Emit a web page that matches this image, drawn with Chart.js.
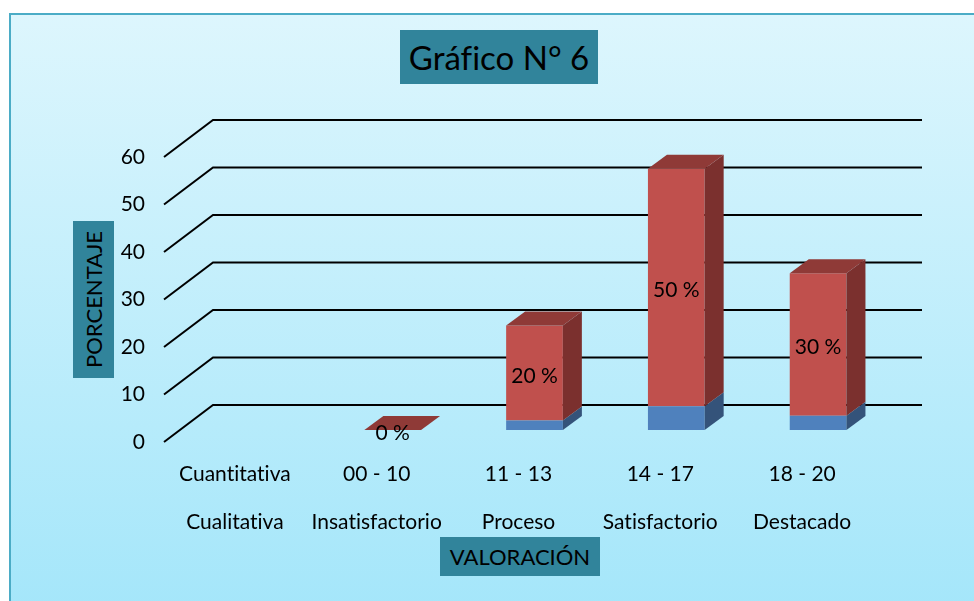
<!DOCTYPE html>
<html>
<head>
<meta charset="utf-8">
<script src="https://cdn.jsdelivr.net/npm/chart.js@4"></script>
<style>
  html, body { margin: 0; padding: 0; background: #fff; }
  body { width: 974px; height: 601px; position: relative; overflow: hidden; font-family: Lato, sans-serif; font-variant-ligatures: none; }
  #frame {
    position: absolute; left: 9px; top: 13px; width: 980px; height: 600px;
    border: 2px solid #4bacc6;
    background: linear-gradient(#ddf6fd, #a4e6fa);
  }
  #chartBox { position: absolute; left: 0; top: 0; width: 974px; height: 601px; }
  .tag { position: absolute; background: #31849b; color: #000; display: flex; align-items: center; justify-content: center; }
  #title { left: 400px; top: 30px; width: 198px; height: 54px; font-size: 33px; }
  #yTitle { left: 73px; top: 221px; width: 41px; height: 157px; font-size: 22px; }
  #yTitle span { transform: rotate(-90deg); white-space: nowrap; display: block; }
  #xTitle { left: 440px; top: 537px; width: 160px; height: 39px; font-size: 22px; }
</style>
</head>
<body>
<div id="frame"></div>
<div id="chartBox"><canvas id="grafico6" width="974" height="601"></canvas></div>
<div class="tag" id="title">Gráfico N° 6</div>
<div class="tag" id="yTitle"><span>PORCENTAJE</span></div>
<div class="tag" id="xTitle">VALORACIÓN</div>
<script>
// datos del gráfico
const categorias = [
    ['Cuantitativa', 'Cualitativa'],
    ['00 - 10', 'Insatisfactorio'],
    ['11 - 13', 'Proceso'],
    ['14 - 17', 'Satisfactorio'],
    ['18 - 20', 'Destacado']
];
const cantidad = [null, 0, 2, 5, 3];
const porcentaje = [null, 0, 20, 50, 30];

// profundidad del efecto 3D
const barDepth = { x: 19, y: -14 };
const wallFront = { x: -16, y: 12 };
const wallBack = { x: 33, y: -25 };

const frontColors = ['#4f81bd', '#c0504d'];
const sideColors = ['#34537a', '#7b302e'];
const topColors = ['#3d6596', '#8f3a37'];

// sin ligaduras en el texto del canvas
const noLigPlugin = {
    id: 'noLig',
    beforeDraw(chart) {
        chart.ctx.textRendering = 'optimizeSpeed';
    }
};

// lineas de division en perspectiva
const gridPlugin = {
    id: 'grid3d',
    beforeDatasetsDraw(chart) {
        const ctx = chart.ctx;
        const yScale = chart.scales.y;
        const area = chart.chartArea;
        ctx.save();
        ctx.strokeStyle = '#000';
        ctx.lineWidth = 2;
        yScale.ticks.forEach(t => {
            const y = yScale.getPixelForValue(t.value);
            ctx.beginPath();
            ctx.moveTo(area.left + wallFront.x, y + wallFront.y);
            ctx.lineTo(area.left + wallBack.x, y + wallBack.y);
            ctx.lineTo(area.right + wallBack.x, y + wallBack.y);
            ctx.stroke();
        });
        ctx.restore();
    }
};

// caras laterales, superiores y etiquetas
const barsPlugin = {
    id: 'bars3d',
    afterDatasetsDraw(chart) {
        const ctx = chart.ctx;
        const metas = chart.getSortedVisibleDatasetMetas();
        ctx.save();
        metas.forEach((meta, di) => {
            const values = chart.data.datasets[meta.index].data;
            meta.data.forEach((bar, i) => {
                if (values[i] == null) return;
                const p = bar.getProps(['x', 'y', 'base', 'width'], true);
                const l = p.x - p.width / 2, r = p.x + p.width / 2;
                const top = Math.min(p.y, p.base), bot = Math.max(p.y, p.base);
                ctx.fillStyle = sideColors[di];
                ctx.beginPath();
                ctx.moveTo(r, bot);
                ctx.lineTo(r, top);
                ctx.lineTo(r + barDepth.x, top + barDepth.y);
                ctx.lineTo(r + barDepth.x, bot + barDepth.y);
                ctx.closePath();
                ctx.fill();
                if (di === metas.length - 1) {
                    ctx.fillStyle = topColors[di];
                    ctx.beginPath();
                    ctx.moveTo(l, top);
                    ctx.lineTo(r, top);
                    ctx.lineTo(r + barDepth.x, top + barDepth.y);
                    ctx.lineTo(l + barDepth.x, top + barDepth.y);
                    ctx.closePath();
                    ctx.fill();
                }
            });
        });
        // etiquetas de porcentaje
        const last = metas[metas.length - 1];
        const values = chart.data.datasets[last.index].data;
        ctx.fillStyle = '#000';
        ctx.font = '21px Lato';
        ctx.textAlign = 'center';
        ctx.textBaseline = 'middle';
        last.data.forEach((bar, i) => {
            if (values[i] == null) return;
            const p = bar.getProps(['x', 'y', 'base'], true);
            ctx.fillText(values[i] + ' %', p.x, (p.y + p.base) / 2 + 3);
        });
        ctx.restore();
    }
};

const ctx = document.getElementById('grafico6').getContext('2d');
const grafico = new Chart(ctx, {
    type: 'bar',
    data: {
        labels: categorias,
        datasets: [
            { label: 'Cantidad', data: cantidad, backgroundColor: frontColors[0], borderWidth: 0 },
            { label: 'Porcentaje', data: porcentaje, backgroundColor: frontColors[1], borderWidth: 0 }
        ]
    },
    options: {
        responsive: false,
        animation: false,
        maintainAspectRatio: false,
        layout: { padding: { left: 100, right: 85, top: 145, bottom: 0 } },
        categoryPercentage: 1,
        barPercentage: 0.4,
        plugins: {
            legend: { display: false },
            tooltip: { enabled: false }
        },
        scales: {
            x: {
                stacked: true,
                grid: { display: false, drawTicks: false },
                border: { display: false },
                ticks: {
                    color: '#000',
                    font: { family: 'Lato', size: 21, lineHeight: 2.3 },
                    padding: 20,
                    labelOffset: -16,
                    maxRotation: 0,
                    autoSkip: false
                },
                afterFit(scale) { scale.height = 171; }
            },
            y: {
                stacked: true,
                min: 0,
                max: 60,
                grid: { display: false, drawTicks: false },
                border: { display: false },
                ticks: {
                    stepSize: 10,
                    color: '#000',
                    font: { family: 'Lato', size: 21 },
                    padding: 35,
                    labelOffset: 12
                },
                afterFit(scale) { scale.width = 80; }
            }
        }
    },
    plugins: [noLigPlugin, gridPlugin, barsPlugin]
});
</script>
</body>
</html>
